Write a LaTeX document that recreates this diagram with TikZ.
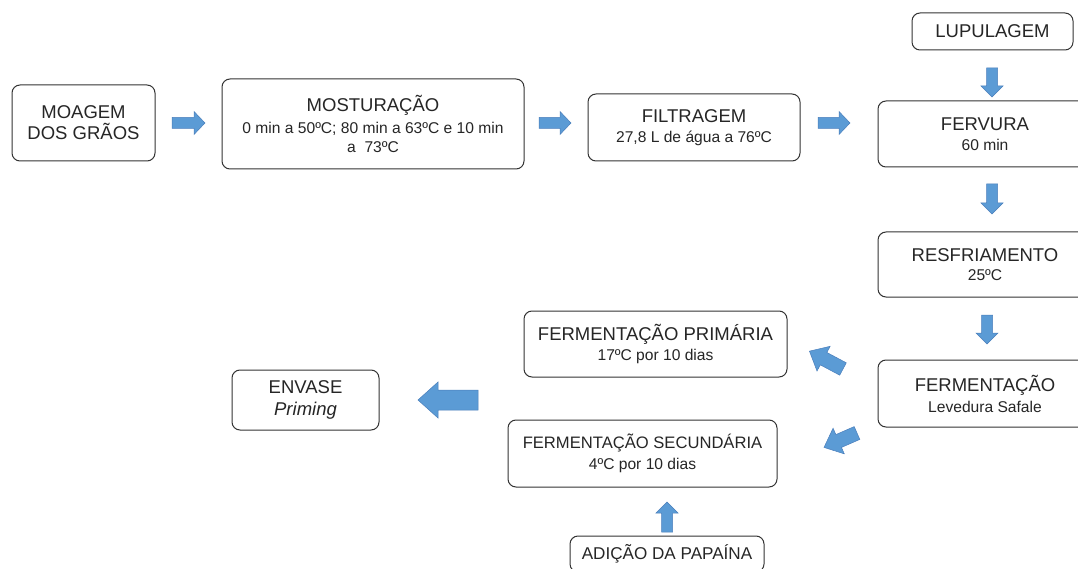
\documentclass[tikz,border=0pt]{standalone}
\usepackage{fontspec}
\setmainfont{Liberation Sans}
\definecolor{arrowblue}{HTML}{5B9BD5}
\definecolor{arrowedge}{HTML}{4A7EBB}
\definecolor{boxedge}{HTML}{333333}
\definecolor{txt}{HTML}{262626}
\newcommand{\ttlf}{\fontsize{18.5}{19.5}\selectfont}
\newcommand{\ttlsmall}{\fontsize{16.6}{19.5}\selectfont}
\newcommand{\ttlmid}{\fontsize{17.1}{19.5}\selectfont}
\newcommand{\sbf}{\fontsize{15.6}{19.5}\selectfont}
\tikzset{
  box/.style={draw=boxedge, line width=1pt, rounded corners=8pt, fill=white,
    inner sep=0pt, align=center, text=txt, font=\sbf},
  barrow/.style={fill=arrowblue, draw=arrowedge, line width=0.5pt, line join=miter},
}
% tail x, tail y, angle, length, shaft, head width, head length
\newcommand{\blockarr}[7]{%
  \begin{scope}[shift={(#1,#2)},rotate=#3]
    \draw[barrow] (0,-#5/2) -- (#4-#7,-#5/2) -- (#4-#7,-#6/2) -- (#4,0)
      -- (#4-#7,#6/2) -- (#4-#7,#5/2) -- (0,#5/2) -- cycle;
  \end{scope}}
\begin{document}
\begin{tikzpicture}[x=1pt,y=-1pt]
\useasboundingbox (0,0) rectangle (1078,569);
\clip (0,0) rectangle (1078,569);

\node[box, minimum width=143pt, minimum height=76pt] (moagem) at (83.5,123)
  {{\ttlf MOAGEM}\\[1.5pt]{\ttlf DOS GRÃOS}};
\node[box, minimum width=302pt, minimum height=90pt] (mostura) at (373,124)
  {{\ttlf MOSTURAÇÃO}\\[2pt]0 min a 50ºC; 80 min a 63ºC e 10 min\\a~~73ºC};
\node[box, minimum width=212pt, minimum height=67pt] (filtr) at (694,127.5)
  {{\ttlf FILTRAGEM}\\[0.5pt]27,8 L de água a 76ºC};
\node[box, minimum width=161pt, minimum height=37pt] (lupul) at (992.5,31.5)
  {\ttlf LUPULAGEM};
\node[box, minimum width=214pt, minimum height=66pt] (fervura) at (985,134)
  {{\ttlf FERVURA}\\60 min};
\node[box, minimum width=214pt, minimum height=65pt] (resfr) at (985,264.5)
  {{\ttlf RESFRIAMENTO}\\25ºC};
\node[box, minimum width=214pt, minimum height=67pt] (ferment) at (985,393.5)
  {{\ttlf FERMENTAÇÃO}\\[1.5pt]Levedura Safale};
\node[box, minimum width=263pt, minimum height=66pt] (primaria) at (655.5,344)
  {{\ttlf FERMENTAÇÃO PRIMÁRIA}\\[0.5pt]17ºC por 10 dias};
\node[box, minimum width=269pt, minimum height=67pt] (secund) at (642.5,453.5)
  {{\ttlsmall FERMENTAÇÃO SECUNDÁRIA}\\[1.5pt]4ºC por 10 dias};
\node[box, minimum width=194pt, minimum height=36pt] (papaina) at (667,554)
  {\ttlmid ADIÇÃO DA PAPAÍNA};
\node[box, minimum width=147pt, minimum height=60pt] (envase) at (305.5,400)
  {{\ttlf ENVASE}\\[2pt]{\ttlf\itshape Priming}};

\blockarr{172}{123}{0}{33}{11}{23}{11}
\blockarr{539}{123}{0}{32}{11}{23}{11}
\blockarr{818}{123}{0}{32}{11}{23}{11}
\blockarr{992}{68}{-90}{29}{11}{22}{11}
\blockarr{992}{184}{-90}{30}{11}{22}{11}
\blockarr{987}{315}{-90}{29}{11}{22}{11}
\blockarr{843}{369}{152}{38}{14}{28}{16}
\blockarr{857}{433}{203.6}{36}{14}{28}{16}
\blockarr{667}{532}{90}{30}{11}{22}{11}
\blockarr{478}{400}{180}{60}{20}{36}{20}
\end{tikzpicture}
\end{document}
